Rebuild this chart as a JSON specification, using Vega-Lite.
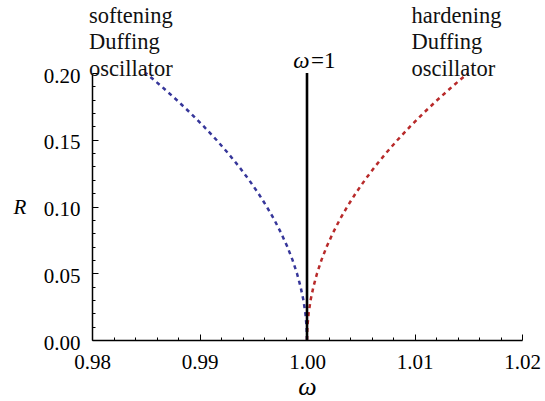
{
  "$schema": "https://vega.github.io/schema/vega-lite/v6.json",
  "width": 430,
  "height": 267,
  "autosize": "none",
  "padding": {"left": 92, "top": 73, "right": 23, "bottom": 61},
  "background": "white",
  "config": {
    "view": {"stroke": null},
    "font": "Liberation Serif",
    "axis": {"labelFont": "Liberation Serif", "titleFont": "Liberation Serif"},
    "text": {"font": "Liberation Serif"}
  },
  "datasets": {
    "backbone": [
      {"type": "softening", "R": 0.0, "omega": 1.0},
      {"type": "softening", "R": 0.01, "omega": 0.9999625},
      {"type": "softening", "R": 0.02, "omega": 0.99985},
      {"type": "softening", "R": 0.03, "omega": 0.9996625},
      {"type": "softening", "R": 0.04, "omega": 0.9994},
      {"type": "softening", "R": 0.05, "omega": 0.9990625},
      {"type": "softening", "R": 0.06, "omega": 0.99865},
      {"type": "softening", "R": 0.07, "omega": 0.9981625},
      {"type": "softening", "R": 0.08, "omega": 0.9976},
      {"type": "softening", "R": 0.09, "omega": 0.9969625},
      {"type": "softening", "R": 0.1, "omega": 0.99625},
      {"type": "softening", "R": 0.11, "omega": 0.9954625},
      {"type": "softening", "R": 0.12, "omega": 0.9946},
      {"type": "softening", "R": 0.13, "omega": 0.9936625},
      {"type": "softening", "R": 0.14, "omega": 0.99265},
      {"type": "softening", "R": 0.15, "omega": 0.9915625},
      {"type": "softening", "R": 0.16, "omega": 0.9904},
      {"type": "softening", "R": 0.17, "omega": 0.9891625},
      {"type": "softening", "R": 0.18, "omega": 0.98785},
      {"type": "softening", "R": 0.19, "omega": 0.9864625},
      {"type": "softening", "R": 0.2, "omega": 0.985},
      {"type": "hardening", "R": 0.0, "omega": 1.0},
      {"type": "hardening", "R": 0.01, "omega": 1.0000375},
      {"type": "hardening", "R": 0.02, "omega": 1.00015},
      {"type": "hardening", "R": 0.03, "omega": 1.0003375},
      {"type": "hardening", "R": 0.04, "omega": 1.0006},
      {"type": "hardening", "R": 0.05, "omega": 1.0009375},
      {"type": "hardening", "R": 0.06, "omega": 1.00135},
      {"type": "hardening", "R": 0.07, "omega": 1.0018375},
      {"type": "hardening", "R": 0.08, "omega": 1.0024},
      {"type": "hardening", "R": 0.09, "omega": 1.0030375},
      {"type": "hardening", "R": 0.1, "omega": 1.00375},
      {"type": "hardening", "R": 0.11, "omega": 1.0045375},
      {"type": "hardening", "R": 0.12, "omega": 1.0054},
      {"type": "hardening", "R": 0.13, "omega": 1.0063375},
      {"type": "hardening", "R": 0.14, "omega": 1.00735},
      {"type": "hardening", "R": 0.15, "omega": 1.0084375},
      {"type": "hardening", "R": 0.16, "omega": 1.0096},
      {"type": "hardening", "R": 0.17, "omega": 1.0108375},
      {"type": "hardening", "R": 0.18, "omega": 1.01215},
      {"type": "hardening", "R": 0.19, "omega": 1.0135375},
      {"type": "hardening", "R": 0.2, "omega": 1.015}
    ],
    "unity": [{"omega": 1.0, "R0": 0.0, "R1": 0.2, "sym": "ω", "rest": "=1"}],
    "notes": [
      {"omega": 0.98, "R": 0.2, "label": "softening\nDuffing\noscillator", "side": "left"},
      {"omega": 1.01, "R": 0.2, "label": "hardening\nDuffing\noscillator", "side": "right"}
    ]
  },
  "resolve": {"axis": {"x": "independent", "y": "independent"}},
  "layer": [
    {
      "data": {"name": "backbone"},
      "mark": {"type": "line", "strokeDash": [4, 4], "strokeWidth": 2.5},
      "encoding": {
        "x": {
          "field": "omega", "type": "quantitative",
          "scale": {"domain": [0.98, 1.02]},
          "axis": {
            "orient": "bottom",
            "values": [0.98, 0.99, 1.0, 1.01, 1.02],
            "format": ".2f",
            "tickSize": -6,
            "grid": false,
            "domainColor": "black", "domainWidth": 1.5,
            "tickColor": "black", "tickWidth": 1,
            "labelFont": "Liberation Serif", "labelFontSize": 21, "labelColor": "black",
            "labelPadding": 17, "labelFlush": false, "labelOverlap": false, "labelBound": false,
            "title": "ω", "titleFont": "Liberation Serif", "titleFontStyle": "italic", "titleFontWeight": "normal",
            "titleFontSize": 26, "titleColor": "black",
            "titleX": 215, "titleY": 54.5, "titleBaseline": "alphabetic", "titleAlign": "center"
          }
        },
        "y": {
          "field": "R", "type": "quantitative",
          "scale": {"domain": [0, 0.2]},
          "axis": {
            "orient": "left",
            "values": [0, 0.05, 0.1, 0.15, 0.2],
            "format": ".2f",
            "tickSize": -6,
            "grid": false,
            "domainColor": "black", "domainWidth": 1.5,
            "tickColor": "black", "tickWidth": 1,
            "labelFont": "Liberation Serif", "labelFontSize": 21, "labelColor": "black",
            "labelPadding": 18, "labelOffset": 3, "labelFlush": false, "labelOverlap": false, "labelBound": false,
            "title": "R", "titleFont": "Liberation Serif", "titleFontStyle": "italic", "titleFontWeight": "normal",
            "titleFontSize": 21, "titleColor": "black", "titleAngle": 0,
            "titleX": -79, "titleY": 134, "titleAlign": "left", "titleBaseline": "middle"
          }
        },
        "color": {
          "field": "type", "type": "nominal",
          "scale": {"domain": ["softening", "hardening"], "range": ["#36369a", "#b82a2a"]},
          "legend": null
        },
        "order": {"field": "R", "type": "quantitative"}
      }
    },
    {
      "data": {"name": "unity"},
      "mark": {"type": "rule", "color": "black", "strokeWidth": 2.6},
      "encoding": {
        "x": {
          "field": "omega", "type": "quantitative",
          "axis": {
            "orient": "bottom",
            "values": [0.982, 0.984, 0.986, 0.988, 0.992, 0.994, 0.996, 0.998, 1.002, 1.004, 1.006, 1.008, 1.012, 1.014, 1.016, 1.018],
            "tickSize": -3, "tickColor": "black", "tickWidth": 1,
            "labels": false, "domain": false, "grid": false, "title": null
          }
        },
        "y": {
          "field": "R0", "type": "quantitative",
          "axis": {
            "orient": "left",
            "values": [0.01, 0.02, 0.03, 0.04, 0.06, 0.07, 0.08, 0.09, 0.11, 0.12, 0.13, 0.14, 0.16, 0.17, 0.18, 0.19],
            "tickSize": -3, "tickColor": "black", "tickWidth": 1,
            "labels": false, "domain": false, "grid": false, "title": null
          }
        },
        "y2": {"field": "R1"}
      }
    },
    {
      "data": {"name": "unity"},
      "mark": {"type": "text", "font": "Liberation Serif", "fontStyle": "italic", "fontSize": 23, "align": "right", "baseline": "alphabetic", "dx": 2.5, "dy": -4.7, "color": "black"},
      "encoding": {
        "x": {"field": "omega", "type": "quantitative", "axis": null},
        "y": {"field": "R1", "type": "quantitative", "axis": null},
        "text": {"field": "sym", "type": "nominal"}
      }
    },
    {
      "data": {"name": "unity"},
      "mark": {"type": "text", "font": "Liberation Serif", "fontSize": 23, "align": "left", "baseline": "alphabetic", "dx": 4, "dy": -4.7, "color": "black"},
      "encoding": {
        "x": {"field": "omega", "type": "quantitative", "axis": null},
        "y": {"field": "R1", "type": "quantitative", "axis": null},
        "text": {"field": "rest", "type": "nominal"}
      }
    },
    {
      "data": {"name": "notes"},
      "mark": {"type": "text", "font": "Liberation Serif", "fontSize": 22.5, "align": "left", "baseline": "alphabetic", "lineBreak": "\n", "lineHeight": 26.5, "color": "#111111", "dy": -50.5},
      "encoding": {
        "x": {"field": "omega", "type": "quantitative", "axis": null},
        "y": {"field": "R", "type": "quantitative", "axis": null},
        "xOffset": {"condition": {"test": "datum.side === 'left'", "value": 7.5}, "value": -3},
        "text": {"field": "label", "type": "nominal"}
      }
    }
  ]
}
